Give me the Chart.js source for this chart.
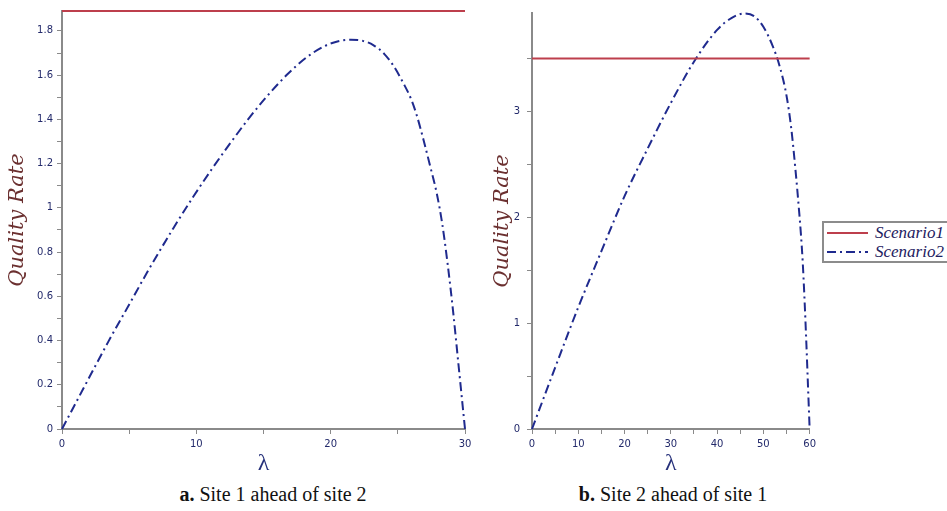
<!DOCTYPE html>
<html>
<head>
<meta charset="utf-8">
<title>Quality Rate vs lambda</title>
<script src="https://cdn.jsdelivr.net/npm/chart.js@4.4.1/dist/chart.umd.min.js"></script>
<style>
    body { margin: 0; background: #fff; width: 947px; height: 511px; overflow: hidden; position: relative; font-family: 'Liberation Serif', serif; }
    canvas { position: absolute; top: 0; }
    #chartA { left: 0; }
    #chartB { left: 480px; }
    .caption { position: absolute; top: 481px; font-size: 20px; line-height: 26px; color: #111; white-space: nowrap; transform: translateX(-50%); }
    .legend { position: absolute; left: 822px; top: 221px; width: 140px; border: 2px solid #8c8c8c; background: #fff; }
    .legend .row { height: 19px; display: flex; align-items: center; }
    .legend svg { margin-left: 3px; margin-right: 7px; }
    .legend span { font: italic 17px 'Liberation Serif', serif; color: #1d2060; }
</style>
</head>
<body>
<canvas id="chartA" width="480" height="480"></canvas>
<canvas id="chartB" width="340" height="480"></canvas>
<div class="caption" style="left:273px"><b>a.</b> Site 1 ahead of site 2</div>
<div class="caption" style="left:673px"><b>b.</b> Site 2 ahead of site 1</div>
<div class="legend" id="legend"></div>

<script>
'use strict';

const seriesNames = ['Scenario1', 'Scenario2'];

// ---- a. Site 1 ahead of site 2 -----------------------------
const aLambda1 = [0, 30];
const aRate1   = [1.89, 1.89];
const aLambda2 = [0, 1.6, 3.45, 5.06, 6.3, 8.29, 9.78, 11.15, 12.5, 13.85, 15.2, 16.8, 18.2, 19.5, 20.5, 21.5, 22.4, 23.2, 24.0, 24.7, 25.4, 26.0, 26.4, 26.9, 27.4, 27.9, 28.3, 28.7, 29.1, 29.5, 30];
const aRate2   = [0, 0.184, 0.395, 0.569, 0.704, 0.908, 1.051, 1.175, 1.29, 1.40, 1.50, 1.605, 1.68, 1.73, 1.752, 1.76, 1.755, 1.735, 1.695, 1.64, 1.565, 1.49, 1.42, 1.31, 1.19, 1.065, 0.93, 0.75, 0.54, 0.30, 0];
const aXTicks  = [0, 5, 10, 15, 20, 25, 30];
const aXLabels = [0, 10, 20, 30];
const aYTicks  = [0, 0.1, 0.2, 0.3, 0.4, 0.5, 0.6, 0.7, 0.8, 0.9, 1, 1.1, 1.2, 1.3, 1.4, 1.5, 1.6, 1.7, 1.8];
const aYLabels = [0, 0.2, 0.4, 0.6, 0.8, 1, 1.2, 1.4, 1.6, 1.8];

// ---- b. Site 2 ahead of site 1 -----------------------------
const bLambda1 = [0, 60];
const bRate1   = [3.5, 3.5];
const bLambda2 = [0, 5, 10, 15, 20, 25, 30, 35, 40, 43, 46, 48, 50, 52, 53.5, 55, 56, 57, 57.7, 58.1, 58.5, 58.9, 59.3, 59.65, 60];
const bRate2   = [0, 0.58, 1.15, 1.68, 2.2, 2.65, 3.08, 3.47, 3.77, 3.88, 3.925, 3.90, 3.80, 3.62, 3.43, 3.15, 2.85, 2.42, 2.07, 1.85, 1.58, 1.22, 0.80, 0.40, 0];
const bXTicks  = [0, 5, 10, 15, 20, 25, 30, 35, 40, 45, 50, 55, 60];
const bXLabels = [0, 10, 20, 30, 40, 50, 60];
const bYTicks  = [0, 0.5, 1, 1.5, 2, 2.5, 3, 3.5];
const bYLabels = [0, 1, 2, 3];

const RED  = '#bd3f4c';
const BLUE = '#1f2a8e';
const AXIS = '#8a8a8a';
const DASH_DOT = [9, 4, 2, 4];

function points(xs, ys) {
    return xs.map((x, i) => ({ x, y: ys[i] }));
}

function axis(o) {
    return {
        type: 'linear',
        min: o.min,
        max: o.max,
        border: { color: AXIS, width: 2 },
        grid: { drawOnChartArea: false, drawTicks: true, tickLength: 5, tickColor: AXIS, tickWidth: 1 },
        ticks: {
            autoSkip: false,
            maxRotation: 0,
            padding: o.tickPad,
            font: { family: "'DejaVu Sans', sans-serif", size: 10 },
            color: '#232a6b',
            callback: v => (o.labels.includes(v) ? String(v) : ''),
        },
        title: o.title,
        afterBuildTicks: scale => { scale.ticks = o.ticks.map(v => ({ value: v })); },
        afterFit: scale => {
            if (o.width != null) scale.width = o.width;
            if (o.height != null) scale.height = o.height;
        },
    };
}

function yTitle(padTop) {
    return {
        display: true,
        text: 'Quality Rate',
        color: '#6b3030',
        font: { family: "'DejaVu Serif', serif", size: 21, style: 'italic' },
        padding: { top: padTop, bottom: 0 },
    };
}

function xTitle() {
    return {
        display: true,
        text: 'λ',
        color: '#26307a',
        font: { family: "'Liberation Serif', serif", size: 24 },
        padding: { top: 0, bottom: 2 },
    };
}

function makeChart(id, d) {
    return new Chart(document.getElementById(id), {
        type: 'scatter',
        data: {
            datasets: [
                {
                    label: seriesNames[0],
                    data: points(d.lambda1, d.rate1),
                    showLine: true,
                    borderColor: RED,
                    borderWidth: 2,
                    pointRadius: 0,
                    clip: false,
                },
                {
                    label: seriesNames[1],
                    data: points(d.lambda2, d.rate2),
                    showLine: true,
                    borderColor: BLUE,
                    borderWidth: 2,
                    borderDash: DASH_DOT,
                    cubicInterpolationMode: 'monotone',
                    pointRadius: 0,
                    clip: false,
                },
            ],
        },
        options: {
            responsive: false,
            animation: false,
            layout: { padding: d.padding },
            plugins: { legend: { display: false }, tooltip: { enabled: false } },
            scales: {
                x: axis({ min: d.xMin, max: d.xMax, ticks: d.xTicks, labels: d.xLabels, tickPad: 4, height: 51, title: xTitle() }),
                y: axis({ min: d.yMin, max: d.yMax, ticks: d.yTicks, labels: d.yLabels, tickPad: d.yTickPad, width: d.yWidth, title: yTitle(d.yTitlePad) }),
            },
        },
    });
}

const chartA = makeChart('chartA', {
    lambda1: aLambda1, rate1: aRate1, lambda2: aLambda2, rate2: aRate2,
    xMin: 0, xMax: 30, yMin: 0, yMax: 1.89,
    xTicks: aXTicks, xLabels: aXLabels, yTicks: aYTicks, yLabels: aYLabels,
    yWidth: 62, yTickPad: 4, yTitlePad: 5,
    padding: { top: 11, right: 15, left: 0, bottom: 0 },
});

const chartB = makeChart('chartB', {
    lambda1: bLambda1, rate1: bRate1, lambda2: bLambda2, rate2: bRate2,
    xMin: 0, xMax: 60, yMin: 0, yMax: 3.93,
    xTicks: bXTicks, xLabels: bXLabels, yTicks: bYTicks, yLabels: bYLabels,
    yWidth: 52, yTickPad: 7, yTitlePad: 10,
    padding: { top: 12, right: 8, left: 0, bottom: 0 },
});

// ---- HTML legend built from the datasets -------------------
const legendEl = document.getElementById('legend');
chartB.data.datasets.forEach(ds => {
    const dash = ds.borderDash ? ds.borderDash.join(' ') : 'none';
    legendEl.insertAdjacentHTML('beforeend',
        '<div class="row"><svg width="41" height="4"><line x1="0" y1="2" x2="41" y2="2" stroke="' + ds.borderColor +
        '" stroke-width="2" stroke-dasharray="' + dash + '"/></svg><span>' + ds.label + '</span></div>');
});
</script>
</body>
</html>
